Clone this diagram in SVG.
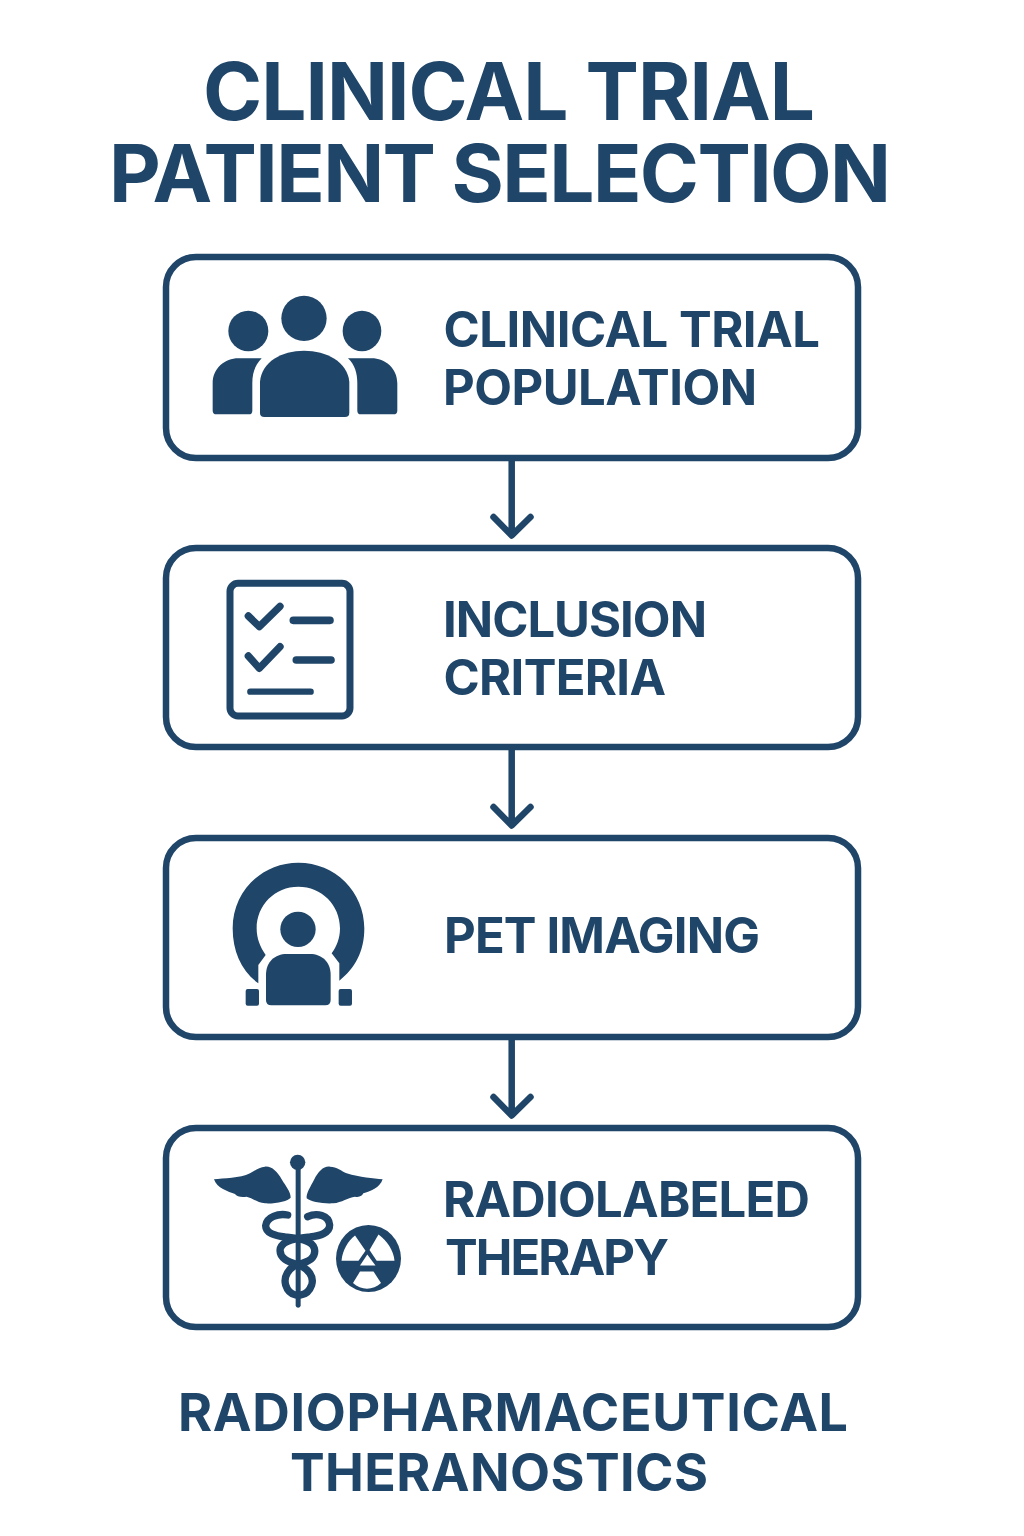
<svg xmlns="http://www.w3.org/2000/svg" width="1024" height="1536" viewBox="0 0 1024 1536">
<style>
text{font-family:Inter,Roboto,"Liberation Sans",sans-serif;fill:#1f4569;font-weight:700}
.title{font-size:80px}
.lab{font-size:49px}
.foot{font-size:52px}
.box{fill:#fff;stroke:#1f4569;stroke-width:6.5}
.ic{fill:#1f4569}
.ln{fill:none;stroke:#1f4569;stroke-linecap:round;stroke-linejoin:round}
.con{fill:none;stroke:#1f4569;stroke-width:6.5;stroke-linejoin:round;stroke-linecap:round}
</style>
<rect width="1024" height="1536" fill="#fff"/>
<g id="title"><text class="title" x="203" y="120" textLength="612">CLINICAL TRIAL</text><text class="title" x="109" y="202" textLength="782">PATIENT SELECTION</text></g>
<g id="connectors">
<path class="con" d="M511.7 460V535M493.5 517L511.7 535.5L530.5 517"/>
<path class="con" d="M511.7 749V825M493.5 807L511.7 825.5L530.5 807"/>
<path class="con" d="M511.7 1039V1115M493.5 1097L511.7 1115.5L530.5 1097"/>
</g>
<g id="node1"><rect class="box" x="166" y="257" width="692" height="201" rx="30"/>
<g transform="translate(160 250) scale(.3333)" class="ic">
<circle cx="432" cy="205" r="68"/><ellipse cx="265" cy="243" rx="60" ry="61"/><ellipse cx="606" cy="243" rx="58" ry="61"/>
<path d="M300 395C305 335 365 302 432 302C500 302 562 335 568 395V488Q568 501 555 501H313Q300 501 300 488Z"/>
<path d="M158 400C158 355 195 325 235 325H305C285 345 277 370 277 400V482Q277 493 267 493H170Q158 493 158 482Z"/>
<path d="M712 400C712 355 675 325 635 325H564C585 345 592 370 592 400V482Q592 493 603 493H700Q712 493 712 482Z"/>
</g>
<text class="lab" x="443.5" y="347" textLength="376.5">CLINICAL TRIAL</text><text class="lab" x="443" y="405" textLength="314">POPULATION</text></g>
<g id="node2"><rect class="box" x="166" y="548" width="692" height="199" rx="30"/>
<g transform="translate(200 565) scale(.3333)">
<rect class="ln" x="90" y="55" width="360" height="398" rx="24" stroke-width="21"/>
<path class="ln" stroke-width="22" d="M145 153L178 185L240 124M145 273L178 310L240 245"/>
<path class="ln" stroke-width="23" d="M280 166H390M289 285H393"/>
<path class="ln" stroke-width="19" d="M151 380H332"/>
</g>
<text class="lab" x="443" y="637" textLength="264">INCLUSION</text><text class="lab" x="443.5" y="695" textLength="222.5">CRITERIA</text></g>
<g id="node3"><rect class="box" x="166" y="838" width="692" height="199" rx="30"/>
<g transform="translate(210 850) scale(.3333)" class="ic">
<path d="M145 400C95 365 68 305 68 235C68 125 155 38 265 38C375 38 463 125 463 235C463 305 435 355 388 392V340L365 310C380 290 390 265 390 235C390 165 335 110 265 110C195 110 140 165 140 235C140 265 150 290 167 315L145 345Z"/>
<circle cx="264" cy="238" r="53"/>
<path d="M168 375C168 335 195 312 230 312H300C335 312 362 335 362 375V450Q362 466 346 466H184Q168 466 168 450Z"/>
<rect x="107" y="417" width="40" height="50" rx="6"/><rect x="386" y="417" width="40" height="50" rx="6"/>
</g>
<text class="lab" x="444" y="953" textLength="316">PET IMAGING</text></g>
<g id="node4"><rect class="box" x="166" y="1128" width="692" height="199" rx="30"/>
<g transform="translate(200 1145) scale(.3333)" class="ic">
<circle cx="293" cy="52" r="23"/><rect x="287" y="60" width="15" height="428" rx="7"/>
<path d="M42 103C70 100 120 100 150 85C165 78 178 65 195 65C215 63 232 80 245 103C258 125 272 140 272 158C265 168 225 177 195 175C170 172 155 158 140 155C125 158 110 155 105 147C85 140 50 130 42 103Z"/>
<path d="M548 103C520 100 480 98 440 85C425 78 410 65 390 65C370 63 355 80 343 103C332 125 318 145 320 160C330 170 370 177 400 175C425 172 445 158 465 155C478 158 488 152 490 145C510 140 540 128 548 103Z"/>
</g>
<g transform="translate(255 1205) scale(.3333)">
<path class="ln" stroke-width="22" d="M98 30C70 25 35 35 32 62C32 85 60 92 90 96C130 100 170 105 178 130C185 160 160 170 130 178C100 188 85 215 92 240C98 260 112 268 122 270"/>
<path class="ln" stroke-width="22" d="M158 35C185 22 222 30 224 60C224 85 195 92 165 96C125 100 85 105 76 130C70 160 100 170 130 180C160 190 178 215 170 240C163 260 150 268 138 270"/>
</g>
<g id="radiation">
<ellipse class="ic" cx="368.5" cy="1258.5" rx="32.5" ry="33.5"/>
<g fill="#fff">
<path d="M341.5 1260.7C342.5 1250 348 1241 355 1235.5L365.5 1250.7L358.5 1260.7Z"/>
<path d="M378.5 1234.5C387 1241 393.5 1250 394.5 1260.7H376.7L369.5 1250Z"/>
<path d="M367.3 1254.5L375.5 1265.5H360Z"/>
<path d="M353 1283L360 1271.5H373.5L381 1283C373 1290.5 361 1290.5 353 1283Z"/>
</g></g>
<text class="lab" x="443" y="1217" textLength="367">RADIOLABELED</text><text class="lab" x="445" y="1275" textLength="224">THERAPY</text></g>
<g id="footer"><text class="foot" x="178" y="1431" textLength="670">RADIOPHARMACEUTICAL</text><text class="foot" x="290" y="1491" textLength="418">THERANOSTICS</text></g>
</svg>
